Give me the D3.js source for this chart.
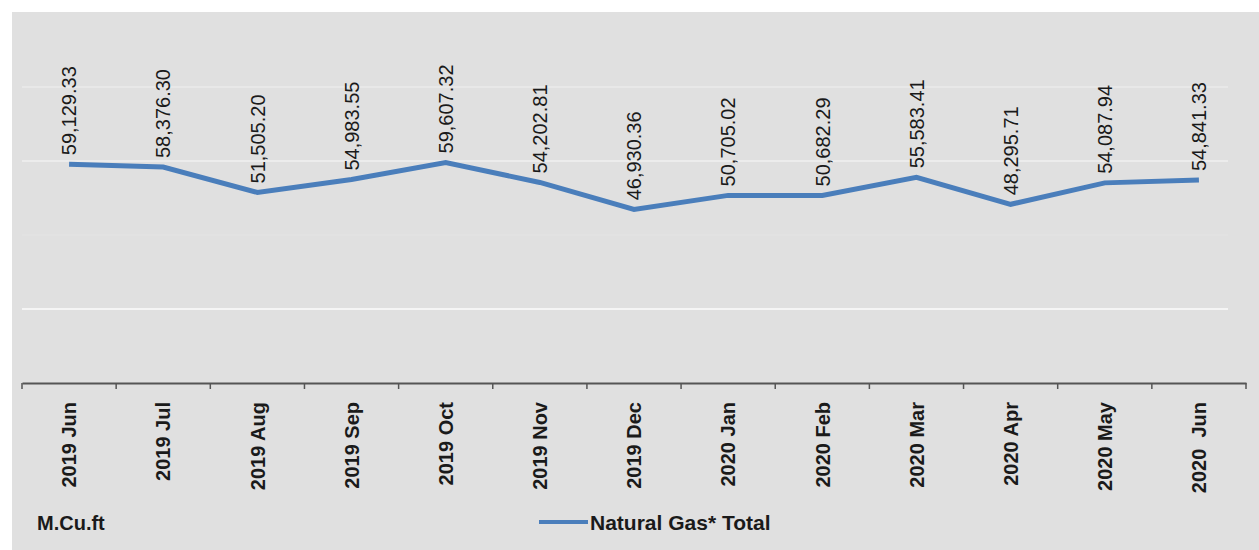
<!DOCTYPE html>
<html><head><meta charset="utf-8">
<script src="https://cdn.jsdelivr.net/npm/d3@7"></script>
<style>
html,body{margin:0;padding:0;background:#fff;}
text{font-family:"Liberation Sans",Arial,sans-serif;}
</style></head>
<body>
<svg id="chart" width="1259" height="550"></svg>
<script>
const categories = ["2019 Jun","2019 Jul","2019 Aug","2019 Sep","2019 Oct","2019 Nov","2019 Dec","2020 Jan","2020 Feb","2020 Mar","2020 Apr","2020 May","2020  Jun"];
const values = [59129.33,58376.30,51505.20,54983.55,59607.32,54202.81,46930.36,50705.02,50682.29,55583.41,48295.71,54087.94,54841.33];
const gridValues = [20000,40000,60000,80000];
const gridOpacity = [0.9,0.12,0.5,0.35];
const seriesName = "Natural Gas* Total";
const unitLabel = "M.Cu.ft";

const svg = d3.select("#chart");
svg.append("rect").attr("x",12).attr("y",12).attr("width",1247).attr("height",538).attr("fill","#e0e0e0");

const x = d3.scaleBand().domain(categories).range([22,1246]).padding(0);
const y = d3.scaleLinear().domain([0,100000]).range([383,13]);

// gridlines
svg.append("g").selectAll("line").data(gridValues).join("line")
  .attr("x1",22).attr("x2",1228)
  .attr("y1",d=>y(d)).attr("y2",d=>y(d))
  .attr("stroke","#ffffff").attr("stroke-width",1.5)
  .attr("stroke-opacity",(d,i)=>gridOpacity[i]);

// x axis
const xAxis = d3.axisBottom(x).tickSize(0).tickFormat("");
const gx = svg.append("g").attr("transform","translate(0,383)").call(xAxis);
gx.select(".domain").attr("stroke","#555").attr("stroke-width",2);
const boundaries = categories.map(c=>x(c)).concat([x.range()[1]]);
gx.selectAll("line.tk").data(boundaries).join("line").attr("class","tk")
  .attr("x1",d=>d).attr("x2",d=>d).attr("y1",0).attr("y2",6)
  .attr("stroke","#555").attr("stroke-width",1.5);

svg.append("g").selectAll("text").data(categories).join("text")
  .attr("transform",d=>`translate(${x(d)+x.bandwidth()/2},402) rotate(-90)`)
  .attr("text-anchor","end").attr("dy","0.36em")
  .style("white-space","pre")
  .attr("font-size",20).attr("font-weight","bold").attr("fill","#1a1a1a")
  .text(d=>d);

// line
const line = d3.line().x((d,i)=>x(categories[i])+x.bandwidth()/2).y(d=>y(d));
svg.append("path").datum(values).attr("d",line)
  .attr("fill","none").attr("stroke","#4a7ebb").attr("stroke-width",5)
  .attr("stroke-linejoin","miter").attr("stroke-linecap","butt");

// data labels
svg.append("g").selectAll("text").data(values).join("text")
  .attr("transform",(d,i)=>`translate(${x(categories[i])+x.bandwidth()/2},${y(d)-9}) rotate(-90)`)
  .attr("text-anchor","start").attr("dy","0.36em")
  .attr("font-size",20).attr("fill","#1a1a1a")
  .text(d=>d3.format(",.2f")(d));

// unit label
svg.append("text").attr("x",37).attr("y",530).attr("font-size",20).attr("font-weight","bold").attr("fill","#1a1a1a").text(unitLabel);

// legend
svg.append("line").attr("x1",539).attr("x2",588).attr("y1",522).attr("y2",522).attr("stroke","#4a7ebb").attr("stroke-width",4);
svg.append("text").attr("x",590).attr("y",530).attr("font-size",21).attr("font-weight","bold").attr("fill","#1a1a1a").text(seriesName);
</script>
</body></html>
